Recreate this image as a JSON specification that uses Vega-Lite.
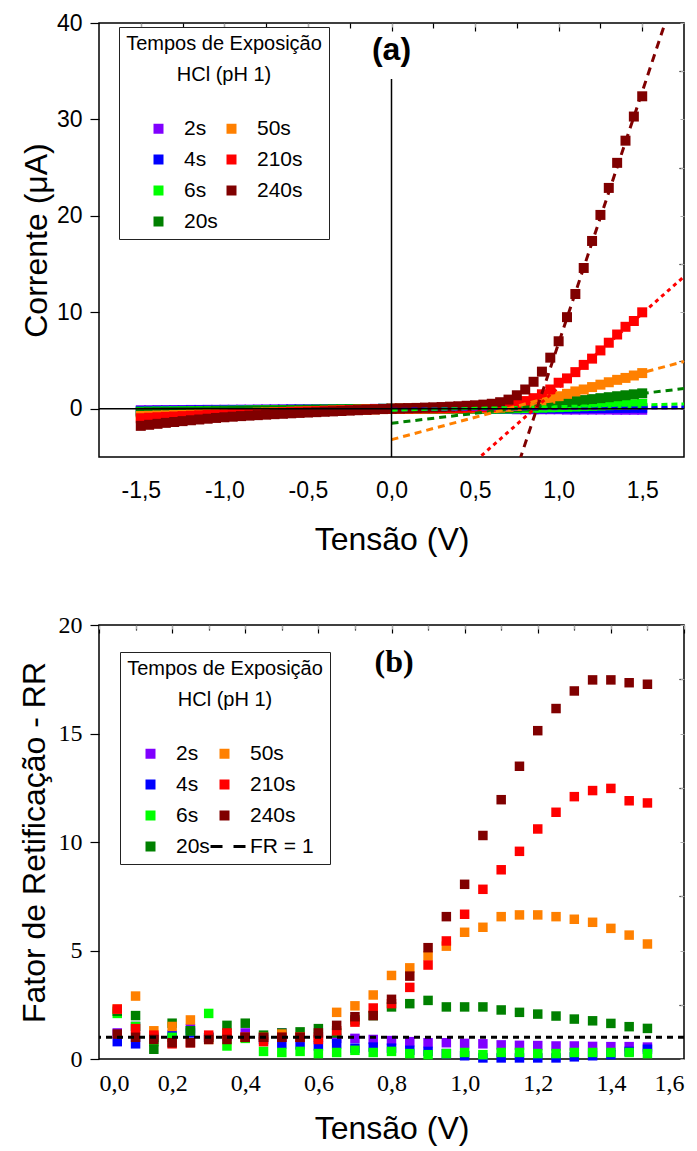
{
"$schema": "https://vega.github.io/schema/vega-lite/v6.json",
"background": "white",
"padding": {"left": 17, "top": 11, "right": 5, "bottom": 5},
"spacing": 56,
"resolve": {"scale": {"color": "independent", "shape": "independent", "stroke": "independent", "strokeDash": "independent"}, "legend": {"color": "independent", "shape": "independent"}},
"config": {
  "view": {"stroke": "black", "strokeWidth": 1.5},
  "axis": {"grid": false, "domain": false, "labelColor": "black", "titleColor": "black", "tickColor": "black", "tickWidth": 1.2, "titleFontWeight": "normal"},
  "legend": {"titleFontWeight": "normal", "titleColor": "black", "labelColor": "black", "strokeColor": "#222", "fillColor": "white", "padding": 7, "titleFont": "Liberation Sans", "titleFontSize": 20, "titleAlign": "center", "titleAnchor": "middle", "titleLineHeight": 31, "titlePadding": 33, "labelFont": "Liberation Sans", "labelFontSize": 21, "labelOffset": 15, "symbolSize": 100, "symbolOffset": 3, "rowPadding": 9, "columnPadding": 0, "symbolStrokeWidth": 0, "titleLimit": 400, "labelLimit": 300}
},
"datasets": {
"fits": [{"t":"2s","v":0,"i":-0.1},{"t":"2s","v":1.75,"i":0.1},{"t":"4s","v":0,"i":-0.05},{"t":"4s","v":1.75,"i":0.2},{"t":"6s","v":0,"i":-0.14},{"t":"6s","v":1.75,"i":0.5},{"t":"20s","v":0,"i":-1.5},{"t":"20s","v":1.75,"i":2.1},{"t":"50s","v":0,"i":-3.2},{"t":"50s","v":1.75,"i":4.9},{"t":"210s","v":0,"i":-13.1},{"t":"210s","v":1.75,"i":13.7},{"t":"240s","v":0,"i":-45.3},{"t":"240s","v":1.75,"i":45.9}],
"iv": [
{"t":"2s","v":-1.5,"i":-0.15},{"t":"2s","v":-1.45,"i":-0.15},{"t":"2s","v":-1.4,"i":-0.14},{"t":"2s","v":-1.35,"i":-0.14},{"t":"2s","v":-1.3,"i":-0.13},{"t":"2s","v":-1.25,"i":-0.13},{"t":"2s","v":-1.2,"i":-0.12},{"t":"2s","v":-1.15,"i":-0.12},{"t":"2s","v":-1.1,"i":-0.11},{"t":"2s","v":-1.05,"i":-0.11},{"t":"2s","v":-1,"i":-0.1},{"t":"2s","v":-0.95,"i":-0.1},{"t":"2s","v":-0.9,"i":-0.09},{"t":"2s","v":-0.85,"i":-0.09},{"t":"2s","v":-0.8,"i":-0.08},{"t":"2s","v":-0.75,"i":-0.08},{"t":"2s","v":-0.7,"i":-0.07},{"t":"2s","v":-0.65,"i":-0.07},{"t":"2s","v":-0.6,"i":-0.06},{"t":"2s","v":-0.55,"i":-0.06},{"t":"2s","v":-0.5,"i":-0.05},{"t":"2s","v":-0.45,"i":-0.05},{"t":"2s","v":-0.4,"i":-0.04},{"t":"2s","v":-0.35,"i":-0.04},{"t":"2s","v":-0.3,"i":-0.03},{"t":"2s","v":-0.25,"i":-0.03},{"t":"2s","v":-0.2,"i":-0.02},{"t":"2s","v":-0.15,"i":-0.02},{"t":"2s","v":-0.1,"i":-0.01},{"t":"2s","v":-0.05,"i":-0.01},{"t":"2s","v":0,"i":0},
{"t":"2s","v":0.05,"i":0.01},{"t":"2s","v":0.1,"i":0.01},{"t":"2s","v":0.15,"i":0.01},{"t":"2s","v":0.2,"i":0.01},{"t":"2s","v":0.25,"i":0.01},{"t":"2s","v":0.3,"i":0.01},{"t":"2s","v":0.35,"i":0.01},{"t":"2s","v":0.4,"i":0.01},{"t":"2s","v":0.45,"i":0.01},{"t":"2s","v":0.5,"i":0.01},{"t":"2s","v":0.55,"i":-0.02},{"t":"2s","v":0.6,"i":-0.02},{"t":"2s","v":0.65,"i":-0.02},{"t":"2s","v":0.7,"i":-0.02},{"t":"2s","v":0.75,"i":-0.05},{"t":"2s","v":0.8,"i":-0.05},{"t":"2s","v":0.85,"i":-0.05},{"t":"2s","v":0.9,"i":-0.05},{"t":"2s","v":0.95,"i":-0.05},{"t":"2s","v":1,"i":-0.05},{"t":"2s","v":1.05,"i":-0.08},{"t":"2s","v":1.1,"i":-0.08},{"t":"2s","v":1.15,"i":-0.08},{"t":"2s","v":1.2,"i":-0.08},{"t":"2s","v":1.25,"i":-0.08},{"t":"2s","v":1.3,"i":-0.08},{"t":"2s","v":1.35,"i":-0.1},{"t":"2s","v":1.4,"i":-0.1},{"t":"2s","v":1.45,"i":-0.1},{"t":"2s","v":1.5,"i":-0.1},
{"t":"4s","v":-1.5,"i":-0.23},{"t":"4s","v":-1.45,"i":-0.22},{"t":"4s","v":-1.4,"i":-0.21},{"t":"4s","v":-1.35,"i":-0.2},{"t":"4s","v":-1.3,"i":-0.2},{"t":"4s","v":-1.25,"i":-0.19},{"t":"4s","v":-1.2,"i":-0.18},{"t":"4s","v":-1.15,"i":-0.17},{"t":"4s","v":-1.1,"i":-0.17},{"t":"4s","v":-1.05,"i":-0.16},{"t":"4s","v":-1,"i":-0.15},{"t":"4s","v":-0.95,"i":-0.14},{"t":"4s","v":-0.9,"i":-0.14},{"t":"4s","v":-0.85,"i":-0.13},{"t":"4s","v":-0.8,"i":-0.12},{"t":"4s","v":-0.75,"i":-0.11},{"t":"4s","v":-0.7,"i":-0.11},{"t":"4s","v":-0.65,"i":-0.1},{"t":"4s","v":-0.6,"i":-0.09},{"t":"4s","v":-0.55,"i":-0.08},{"t":"4s","v":-0.5,"i":-0.08},{"t":"4s","v":-0.45,"i":-0.07},{"t":"4s","v":-0.4,"i":-0.06},{"t":"4s","v":-0.35,"i":-0.05},{"t":"4s","v":-0.3,"i":-0.05},{"t":"4s","v":-0.25,"i":-0.04},{"t":"4s","v":-0.2,"i":-0.03},{"t":"4s","v":-0.15,"i":-0.02},{"t":"4s","v":-0.1,"i":-0.02},{"t":"4s","v":-0.05,"i":-0.01},{"t":"4s","v":0,"i":0},
{"t":"4s","v":0.05,"i":0.01},{"t":"4s","v":0.1,"i":0.01},{"t":"4s","v":0.15,"i":0.01},{"t":"4s","v":0.2,"i":0.01},{"t":"4s","v":0.25,"i":0.01},{"t":"4s","v":0.3,"i":0.01},{"t":"4s","v":0.35,"i":0.01},{"t":"4s","v":0.4,"i":0.01},{"t":"4s","v":0.45,"i":0.01},{"t":"4s","v":0.5,"i":0.01},{"t":"4s","v":0.55,"i":0.01},{"t":"4s","v":0.6,"i":0.01},{"t":"4s","v":0.65,"i":0.02},{"t":"4s","v":0.7,"i":0.02},{"t":"4s","v":0.75,"i":0.03},{"t":"4s","v":0.8,"i":0.03},{"t":"4s","v":0.85,"i":0.04},{"t":"4s","v":0.9,"i":0.04},{"t":"4s","v":0.95,"i":0.05},{"t":"4s","v":1,"i":0.05},{"t":"4s","v":1.05,"i":0.06},{"t":"4s","v":1.1,"i":0.06},{"t":"4s","v":1.15,"i":0.07},{"t":"4s","v":1.2,"i":0.07},{"t":"4s","v":1.25,"i":0.08},{"t":"4s","v":1.3,"i":0.08},{"t":"4s","v":1.35,"i":0.09},{"t":"4s","v":1.4,"i":0.09},{"t":"4s","v":1.45,"i":0.1},{"t":"4s","v":1.5,"i":0.1},
{"t":"6s","v":-1.5,"i":-0.3},{"t":"6s","v":-1.45,"i":-0.29},{"t":"6s","v":-1.4,"i":-0.28},{"t":"6s","v":-1.35,"i":-0.27},{"t":"6s","v":-1.3,"i":-0.26},{"t":"6s","v":-1.25,"i":-0.25},{"t":"6s","v":-1.2,"i":-0.24},{"t":"6s","v":-1.15,"i":-0.23},{"t":"6s","v":-1.1,"i":-0.22},{"t":"6s","v":-1.05,"i":-0.21},{"t":"6s","v":-1,"i":-0.2},{"t":"6s","v":-0.95,"i":-0.19},{"t":"6s","v":-0.9,"i":-0.18},{"t":"6s","v":-0.85,"i":-0.17},{"t":"6s","v":-0.8,"i":-0.16},{"t":"6s","v":-0.75,"i":-0.15},{"t":"6s","v":-0.7,"i":-0.14},{"t":"6s","v":-0.65,"i":-0.13},{"t":"6s","v":-0.6,"i":-0.12},{"t":"6s","v":-0.55,"i":-0.11},{"t":"6s","v":-0.5,"i":-0.1},{"t":"6s","v":-0.45,"i":-0.09},{"t":"6s","v":-0.4,"i":-0.08},{"t":"6s","v":-0.35,"i":-0.07},{"t":"6s","v":-0.3,"i":-0.06},{"t":"6s","v":-0.25,"i":-0.05},{"t":"6s","v":-0.2,"i":-0.04},{"t":"6s","v":-0.15,"i":-0.03},{"t":"6s","v":-0.1,"i":-0.02},{"t":"6s","v":-0.05,"i":-0.01},{"t":"6s","v":0,"i":0},
{"t":"6s","v":0.05,"i":0.01},{"t":"6s","v":0.1,"i":0.01},{"t":"6s","v":0.15,"i":0.01},{"t":"6s","v":0.2,"i":0.01},{"t":"6s","v":0.25,"i":0.01},{"t":"6s","v":0.3,"i":0.01},{"t":"6s","v":0.35,"i":0.01},{"t":"6s","v":0.4,"i":0.01},{"t":"6s","v":0.45,"i":0.01},{"t":"6s","v":0.5,"i":0.01},{"t":"6s","v":0.55,"i":0.01},{"t":"6s","v":0.6,"i":0.01},{"t":"6s","v":0.65,"i":0.02},{"t":"6s","v":0.7,"i":0.03},{"t":"6s","v":0.75,"i":0.05},{"t":"6s","v":0.8,"i":0.07},{"t":"6s","v":0.85,"i":0.1},{"t":"6s","v":0.9,"i":0.12},{"t":"6s","v":0.95,"i":0.15},{"t":"6s","v":1,"i":0.17},{"t":"6s","v":1.05,"i":0.2},{"t":"6s","v":1.1,"i":0.23},{"t":"6s","v":1.15,"i":0.27},{"t":"6s","v":1.2,"i":0.3},{"t":"6s","v":1.25,"i":0.33},{"t":"6s","v":1.3,"i":0.37},{"t":"6s","v":1.35,"i":0.4},{"t":"6s","v":1.4,"i":0.44},{"t":"6s","v":1.45,"i":0.47},{"t":"6s","v":1.5,"i":0.5},
{"t":"20s","v":-1.5,"i":-0.38},{"t":"20s","v":-1.45,"i":-0.36},{"t":"20s","v":-1.4,"i":-0.35},{"t":"20s","v":-1.35,"i":-0.34},{"t":"20s","v":-1.3,"i":-0.33},{"t":"20s","v":-1.25,"i":-0.31},{"t":"20s","v":-1.2,"i":-0.3},{"t":"20s","v":-1.15,"i":-0.29},{"t":"20s","v":-1.1,"i":-0.28},{"t":"20s","v":-1.05,"i":-0.26},{"t":"20s","v":-1,"i":-0.25},{"t":"20s","v":-0.95,"i":-0.24},{"t":"20s","v":-0.9,"i":-0.23},{"t":"20s","v":-0.85,"i":-0.21},{"t":"20s","v":-0.8,"i":-0.2},{"t":"20s","v":-0.75,"i":-0.19},{"t":"20s","v":-0.7,"i":-0.18},{"t":"20s","v":-0.65,"i":-0.16},{"t":"20s","v":-0.6,"i":-0.15},{"t":"20s","v":-0.55,"i":-0.14},{"t":"20s","v":-0.5,"i":-0.13},{"t":"20s","v":-0.45,"i":-0.11},{"t":"20s","v":-0.4,"i":-0.1},{"t":"20s","v":-0.35,"i":-0.09},{"t":"20s","v":-0.3,"i":-0.08},{"t":"20s","v":-0.25,"i":-0.06},{"t":"20s","v":-0.2,"i":-0.05},{"t":"20s","v":-0.15,"i":-0.04},{"t":"20s","v":-0.1,"i":-0.03},{"t":"20s","v":-0.05,"i":-0.01},{"t":"20s","v":0,"i":0},
{"t":"20s","v":0.05,"i":0.01},{"t":"20s","v":0.1,"i":0.01},{"t":"20s","v":0.15,"i":0.02},{"t":"20s","v":0.2,"i":0.02},{"t":"20s","v":0.25,"i":0.02},{"t":"20s","v":0.3,"i":0.03},{"t":"20s","v":0.35,"i":0.03},{"t":"20s","v":0.4,"i":0.03},{"t":"20s","v":0.45,"i":0.04},{"t":"20s","v":0.5,"i":0.04},{"t":"20s","v":0.55,"i":0.05},{"t":"20s","v":0.6,"i":0.05},{"t":"20s","v":0.65,"i":0.06},{"t":"20s","v":0.7,"i":0.1},{"t":"20s","v":0.75,"i":0.15},{"t":"20s","v":0.8,"i":0.22},{"t":"20s","v":0.85,"i":0.3},{"t":"20s","v":0.9,"i":0.4},{"t":"20s","v":0.95,"i":0.5},{"t":"20s","v":1,"i":0.6},{"t":"20s","v":1.05,"i":0.7},{"t":"20s","v":1.1,"i":0.8},{"t":"20s","v":1.15,"i":0.9},{"t":"20s","v":1.2,"i":1.0},{"t":"20s","v":1.25,"i":1.1},{"t":"20s","v":1.3,"i":1.2},{"t":"20s","v":1.35,"i":1.3},{"t":"20s","v":1.4,"i":1.4},{"t":"20s","v":1.45,"i":1.5},{"t":"20s","v":1.5,"i":1.6},
{"t":"50s","v":-1.5,"i":-0.75},{"t":"50s","v":-1.45,"i":-0.73},{"t":"50s","v":-1.4,"i":-0.7},{"t":"50s","v":-1.35,"i":-0.68},{"t":"50s","v":-1.3,"i":-0.65},{"t":"50s","v":-1.25,"i":-0.63},{"t":"50s","v":-1.2,"i":-0.6},{"t":"50s","v":-1.15,"i":-0.58},{"t":"50s","v":-1.1,"i":-0.55},{"t":"50s","v":-1.05,"i":-0.53},{"t":"50s","v":-1,"i":-0.5},{"t":"50s","v":-0.95,"i":-0.48},{"t":"50s","v":-0.9,"i":-0.45},{"t":"50s","v":-0.85,"i":-0.43},{"t":"50s","v":-0.8,"i":-0.4},{"t":"50s","v":-0.75,"i":-0.38},{"t":"50s","v":-0.7,"i":-0.35},{"t":"50s","v":-0.65,"i":-0.33},{"t":"50s","v":-0.6,"i":-0.3},{"t":"50s","v":-0.55,"i":-0.28},{"t":"50s","v":-0.5,"i":-0.25},{"t":"50s","v":-0.45,"i":-0.23},{"t":"50s","v":-0.4,"i":-0.2},{"t":"50s","v":-0.35,"i":-0.18},{"t":"50s","v":-0.3,"i":-0.15},{"t":"50s","v":-0.25,"i":-0.13},{"t":"50s","v":-0.2,"i":-0.1},{"t":"50s","v":-0.15,"i":-0.08},{"t":"50s","v":-0.1,"i":-0.05},{"t":"50s","v":-0.05,"i":-0.03},{"t":"50s","v":0,"i":0},
{"t":"50s","v":0.05,"i":0.01},{"t":"50s","v":0.1,"i":0.01},{"t":"50s","v":0.15,"i":0.02},{"t":"50s","v":0.2,"i":0.02},{"t":"50s","v":0.25,"i":0.03},{"t":"50s","v":0.3,"i":0.03},{"t":"50s","v":0.35,"i":0.04},{"t":"50s","v":0.4,"i":0.04},{"t":"50s","v":0.45,"i":0.05},{"t":"50s","v":0.5,"i":0.05},{"t":"50s","v":0.55,"i":0.06},{"t":"50s","v":0.6,"i":0.08},{"t":"50s","v":0.65,"i":0.12},{"t":"50s","v":0.7,"i":0.2},{"t":"50s","v":0.75,"i":0.3},{"t":"50s","v":0.8,"i":0.45},{"t":"50s","v":0.85,"i":0.65},{"t":"50s","v":0.9,"i":0.85},{"t":"50s","v":0.95,"i":1.05},{"t":"50s","v":1,"i":1.3},{"t":"50s","v":1.05,"i":1.55},{"t":"50s","v":1.1,"i":1.8},{"t":"50s","v":1.15,"i":2.0},{"t":"50s","v":1.2,"i":2.25},{"t":"50s","v":1.25,"i":2.5},{"t":"50s","v":1.3,"i":2.75},{"t":"50s","v":1.35,"i":3.0},{"t":"50s","v":1.4,"i":3.2},{"t":"50s","v":1.45,"i":3.45},{"t":"50s","v":1.5,"i":3.7},
{"t":"210s","v":-1.5,"i":-0.98},{"t":"210s","v":-1.45,"i":-0.93},{"t":"210s","v":-1.4,"i":-0.88},{"t":"210s","v":-1.35,"i":-0.84},{"t":"210s","v":-1.3,"i":-0.8},{"t":"210s","v":-1.25,"i":-0.76},{"t":"210s","v":-1.2,"i":-0.72},{"t":"210s","v":-1.15,"i":-0.68},{"t":"210s","v":-1.1,"i":-0.64},{"t":"210s","v":-1.05,"i":-0.61},{"t":"210s","v":-1,"i":-0.58},{"t":"210s","v":-0.95,"i":-0.55},{"t":"210s","v":-0.9,"i":-0.52},{"t":"210s","v":-0.85,"i":-0.49},{"t":"210s","v":-0.8,"i":-0.46},{"t":"210s","v":-0.75,"i":-0.43},{"t":"210s","v":-0.7,"i":-0.4},{"t":"210s","v":-0.65,"i":-0.37},{"t":"210s","v":-0.6,"i":-0.34},{"t":"210s","v":-0.55,"i":-0.31},{"t":"210s","v":-0.5,"i":-0.28},{"t":"210s","v":-0.45,"i":-0.25},{"t":"210s","v":-0.4,"i":-0.22},{"t":"210s","v":-0.35,"i":-0.19},{"t":"210s","v":-0.3,"i":-0.16},{"t":"210s","v":-0.25,"i":-0.13},{"t":"210s","v":-0.2,"i":-0.1},{"t":"210s","v":-0.15,"i":-0.07},{"t":"210s","v":-0.1,"i":-0.05},{"t":"210s","v":-0.05,"i":-0.02},{"t":"210s","v":0,"i":0},
{"t":"210s","v":0.05,"i":0.01},{"t":"210s","v":0.1,"i":0.02},{"t":"210s","v":0.15,"i":0.03},{"t":"210s","v":0.2,"i":0.04},{"t":"210s","v":0.25,"i":0.05},{"t":"210s","v":0.3,"i":0.06},{"t":"210s","v":0.35,"i":0.07},{"t":"210s","v":0.4,"i":0.08},{"t":"210s","v":0.45,"i":0.1},{"t":"210s","v":0.5,"i":0.12},{"t":"210s","v":0.55,"i":0.15},{"t":"210s","v":0.6,"i":0.2},{"t":"210s","v":0.65,"i":0.3},{"t":"210s","v":0.7,"i":0.4},{"t":"210s","v":0.75,"i":0.55},{"t":"210s","v":0.8,"i":0.8},{"t":"210s","v":0.85,"i":1.1},{"t":"210s","v":0.9,"i":1.5},{"t":"210s","v":0.95,"i":2.0},{"t":"210s","v":1,"i":2.7},{"t":"210s","v":1.05,"i":3.15},{"t":"210s","v":1.1,"i":3.8},{"t":"210s","v":1.15,"i":4.55},{"t":"210s","v":1.2,"i":5.2},{"t":"210s","v":1.25,"i":6.05},{"t":"210s","v":1.3,"i":6.85},{"t":"210s","v":1.35,"i":7.7},{"t":"210s","v":1.4,"i":8.5},{"t":"210s","v":1.45,"i":9.1},{"t":"210s","v":1.5,"i":10.0},
{"t":"240s","v":-1.5,"i":-1.77},{"t":"240s","v":-1.45,"i":-1.66},{"t":"240s","v":-1.4,"i":-1.56},{"t":"240s","v":-1.35,"i":-1.46},{"t":"240s","v":-1.3,"i":-1.37},{"t":"240s","v":-1.25,"i":-1.28},{"t":"240s","v":-1.2,"i":-1.19},{"t":"240s","v":-1.15,"i":-1.11},{"t":"240s","v":-1.1,"i":-1.03},{"t":"240s","v":-1.05,"i":-0.95},{"t":"240s","v":-1,"i":-0.88},{"t":"240s","v":-0.95,"i":-0.82},{"t":"240s","v":-0.9,"i":-0.76},{"t":"240s","v":-0.85,"i":-0.71},{"t":"240s","v":-0.8,"i":-0.66},{"t":"240s","v":-0.75,"i":-0.61},{"t":"240s","v":-0.7,"i":-0.56},{"t":"240s","v":-0.65,"i":-0.52},{"t":"240s","v":-0.6,"i":-0.47},{"t":"240s","v":-0.55,"i":-0.43},{"t":"240s","v":-0.5,"i":-0.39},{"t":"240s","v":-0.45,"i":-0.35},{"t":"240s","v":-0.4,"i":-0.31},{"t":"240s","v":-0.35,"i":-0.27},{"t":"240s","v":-0.3,"i":-0.23},{"t":"240s","v":-0.25,"i":-0.19},{"t":"240s","v":-0.2,"i":-0.15},{"t":"240s","v":-0.15,"i":-0.11},{"t":"240s","v":-0.1,"i":-0.07},{"t":"240s","v":-0.05,"i":-0.03},{"t":"240s","v":0,"i":0},
{"t":"240s","v":0.05,"i":0.03},{"t":"240s","v":0.1,"i":0.06},{"t":"240s","v":0.15,"i":0.09},{"t":"240s","v":0.2,"i":0.12},{"t":"240s","v":0.25,"i":0.15},{"t":"240s","v":0.3,"i":0.18},{"t":"240s","v":0.35,"i":0.22},{"t":"240s","v":0.4,"i":0.26},{"t":"240s","v":0.45,"i":0.31},{"t":"240s","v":0.5,"i":0.36},{"t":"240s","v":0.55,"i":0.43},{"t":"240s","v":0.6,"i":0.52},{"t":"240s","v":0.65,"i":0.68},{"t":"240s","v":0.7,"i":0.95},{"t":"240s","v":0.75,"i":1.4},{"t":"240s","v":0.8,"i":2.0},{"t":"240s","v":0.85,"i":2.8},{"t":"240s","v":0.9,"i":3.85},{"t":"240s","v":0.95,"i":5.3},{"t":"240s","v":1,"i":7.0},{"t":"240s","v":1.05,"i":9.5},{"t":"240s","v":1.1,"i":11.9},{"t":"240s","v":1.15,"i":14.6},{"t":"240s","v":1.2,"i":17.4},{"t":"240s","v":1.25,"i":20.1},{"t":"240s","v":1.3,"i":22.9},{"t":"240s","v":1.35,"i":25.5},{"t":"240s","v":1.4,"i":27.8},{"t":"240s","v":1.45,"i":30.3},{"t":"240s","v":1.5,"i":32.4}
],
"rr": [
{"t":"2s","v":0.05,"r":1.2},{"t":"2s","v":0.1,"r":1.5},{"t":"2s","v":0.15,"r":1.0},{"t":"2s","v":0.2,"r":1.0},{"t":"2s","v":0.25,"r":1.4},{"t":"2s","v":0.3,"r":1.0},{"t":"2s","v":0.35,"r":1.05},{"t":"2s","v":0.4,"r":1.2},{"t":"2s","v":0.45,"r":1.0},{"t":"2s","v":0.5,"r":1.2},{"t":"2s","v":0.55,"r":1.0},{"t":"2s","v":0.6,"r":1.0},{"t":"2s","v":0.65,"r":0.95},{"t":"2s","v":0.7,"r":0.95},{"t":"2s","v":0.75,"r":0.9},{"t":"2s","v":0.8,"r":0.85},{"t":"2s","v":0.85,"r":0.8},{"t":"2s","v":0.9,"r":0.75},{"t":"2s","v":0.95,"r":0.75},{"t":"2s","v":1,"r":0.72},{"t":"2s","v":1.05,"r":0.7},{"t":"2s","v":1.1,"r":0.65},{"t":"2s","v":1.15,"r":0.63},{"t":"2s","v":1.2,"r":0.62},{"t":"2s","v":1.25,"r":0.6},{"t":"2s","v":1.3,"r":0.6},{"t":"2s","v":1.35,"r":0.58},{"t":"2s","v":1.4,"r":0.57},{"t":"2s","v":1.45,"r":0.57},{"t":"2s","v":1.5,"r":0.55},
{"t":"4s","v":0.05,"r":0.8},{"t":"4s","v":0.1,"r":0.7},{"t":"4s","v":0.15,"r":1.0},{"t":"4s","v":0.2,"r":1.1},{"t":"4s","v":0.25,"r":1.2},{"t":"4s","v":0.3,"r":1.0},{"t":"4s","v":0.35,"r":1.1},{"t":"4s","v":0.4,"r":1.0},{"t":"4s","v":0.45,"r":0.9},{"t":"4s","v":0.5,"r":0.7},{"t":"4s","v":0.55,"r":0.65},{"t":"4s","v":0.6,"r":0.6},{"t":"4s","v":0.65,"r":0.7},{"t":"4s","v":0.7,"r":0.5},{"t":"4s","v":0.75,"r":0.55},{"t":"4s","v":0.8,"r":0.5},{"t":"4s","v":0.85,"r":0.4},{"t":"4s","v":0.9,"r":0.35},{"t":"4s","v":0.95,"r":0.25},{"t":"4s","v":1,"r":0.15},{"t":"4s","v":1.05,"r":0.05},{"t":"4s","v":1.1,"r":0.05},{"t":"4s","v":1.15,"r":0.05},{"t":"4s","v":1.2,"r":0.05},{"t":"4s","v":1.25,"r":0.05},{"t":"4s","v":1.3,"r":0.1},{"t":"4s","v":1.35,"r":0.15},{"t":"4s","v":1.4,"r":0.2},{"t":"4s","v":1.45,"r":0.35},{"t":"4s","v":1.5,"r":0.45},
{"t":"6s","v":0.05,"r":2.1},{"t":"6s","v":0.1,"r":1.5},{"t":"6s","v":0.15,"r":0.8},{"t":"6s","v":0.2,"r":1.0},{"t":"6s","v":0.25,"r":1.3},{"t":"6s","v":0.3,"r":2.1},{"t":"6s","v":0.35,"r":0.6},{"t":"6s","v":0.4,"r":0.95},{"t":"6s","v":0.45,"r":0.35},{"t":"6s","v":0.5,"r":0.3},{"t":"6s","v":0.55,"r":0.35},{"t":"6s","v":0.6,"r":0.25},{"t":"6s","v":0.65,"r":0.3},{"t":"6s","v":0.7,"r":0.4},{"t":"6s","v":0.75,"r":0.3},{"t":"6s","v":0.8,"r":0.35},{"t":"6s","v":0.85,"r":0.25},{"t":"6s","v":0.9,"r":0.2},{"t":"6s","v":0.95,"r":0.25},{"t":"6s","v":1,"r":0.3},{"t":"6s","v":1.05,"r":0.2},{"t":"6s","v":1.1,"r":0.3},{"t":"6s","v":1.15,"r":0.3},{"t":"6s","v":1.2,"r":0.25},{"t":"6s","v":1.25,"r":0.25},{"t":"6s","v":1.3,"r":0.3},{"t":"6s","v":1.35,"r":0.3},{"t":"6s","v":1.4,"r":0.3},{"t":"6s","v":1.45,"r":0.3},{"t":"6s","v":1.5,"r":0.25},
{"t":"20s","v":0.05,"r":2.2},{"t":"20s","v":0.1,"r":2.0},{"t":"20s","v":0.15,"r":0.45},{"t":"20s","v":0.2,"r":1.65},{"t":"20s","v":0.25,"r":1.3},{"t":"20s","v":0.3,"r":1.0},{"t":"20s","v":0.35,"r":1.55},{"t":"20s","v":0.4,"r":1.65},{"t":"20s","v":0.45,"r":1.1},{"t":"20s","v":0.5,"r":1.2},{"t":"20s","v":0.55,"r":1.25},{"t":"20s","v":0.6,"r":1.4},{"t":"20s","v":0.65,"r":1.2},{"t":"20s","v":0.7,"r":1.8},{"t":"20s","v":0.75,"r":2.0},{"t":"20s","v":0.8,"r":2.4},{"t":"20s","v":0.85,"r":2.55},{"t":"20s","v":0.9,"r":2.7},{"t":"20s","v":0.95,"r":2.4},{"t":"20s","v":1,"r":2.4},{"t":"20s","v":1.05,"r":2.4},{"t":"20s","v":1.1,"r":2.26},{"t":"20s","v":1.15,"r":2.15},{"t":"20s","v":1.2,"r":2.07},{"t":"20s","v":1.25,"r":1.98},{"t":"20s","v":1.3,"r":1.84},{"t":"20s","v":1.35,"r":1.76},{"t":"20s","v":1.4,"r":1.64},{"t":"20s","v":1.45,"r":1.49},{"t":"20s","v":1.5,"r":1.41},
{"t":"50s","v":0.05,"r":2.3},{"t":"50s","v":0.1,"r":2.9},{"t":"50s","v":0.15,"r":1.3},{"t":"50s","v":0.2,"r":1.5},{"t":"50s","v":0.25,"r":1.8},{"t":"50s","v":0.3,"r":0.9},{"t":"50s","v":0.35,"r":1.1},{"t":"50s","v":0.4,"r":1.0},{"t":"50s","v":0.45,"r":1.0},{"t":"50s","v":0.5,"r":1.15},{"t":"50s","v":0.55,"r":1.0},{"t":"50s","v":0.6,"r":1.0},{"t":"50s","v":0.65,"r":2.15},{"t":"50s","v":0.7,"r":2.45},{"t":"50s","v":0.75,"r":2.95},{"t":"50s","v":0.8,"r":3.85},{"t":"50s","v":0.85,"r":4.2},{"t":"50s","v":0.9,"r":4.75},{"t":"50s","v":0.95,"r":5.2},{"t":"50s","v":1,"r":5.84},{"t":"50s","v":1.05,"r":6.07},{"t":"50s","v":1.1,"r":6.56},{"t":"50s","v":1.15,"r":6.64},{"t":"50s","v":1.2,"r":6.64},{"t":"50s","v":1.25,"r":6.56},{"t":"50s","v":1.3,"r":6.44},{"t":"50s","v":1.35,"r":6.3},{"t":"50s","v":1.4,"r":6.02},{"t":"50s","v":1.45,"r":5.71},{"t":"50s","v":1.5,"r":5.3},
{"t":"210s","v":0.05,"r":2.3},{"t":"210s","v":0.1,"r":1.4},{"t":"210s","v":0.15,"r":1.1},{"t":"210s","v":0.2,"r":0.7},{"t":"210s","v":0.25,"r":0.75},{"t":"210s","v":0.3,"r":1.1},{"t":"210s","v":0.35,"r":1.2},{"t":"210s","v":0.4,"r":1.0},{"t":"210s","v":0.45,"r":0.8},{"t":"210s","v":0.5,"r":1.0},{"t":"210s","v":0.55,"r":1.0},{"t":"210s","v":0.6,"r":0.9},{"t":"210s","v":0.65,"r":1.3},{"t":"210s","v":0.7,"r":1.7},{"t":"210s","v":0.75,"r":2.35},{"t":"210s","v":0.8,"r":2.55},{"t":"210s","v":0.85,"r":3.3},{"t":"210s","v":0.9,"r":4.33},{"t":"210s","v":0.95,"r":5.44},{"t":"210s","v":1,"r":6.67},{"t":"210s","v":1.05,"r":7.82},{"t":"210s","v":1.1,"r":8.72},{"t":"210s","v":1.15,"r":9.57},{"t":"210s","v":1.2,"r":10.6},{"t":"210s","v":1.25,"r":11.37},{"t":"210s","v":1.3,"r":12.09},{"t":"210s","v":1.35,"r":12.37},{"t":"210s","v":1.4,"r":12.47},{"t":"210s","v":1.45,"r":11.9},{"t":"210s","v":1.5,"r":11.8},
{"t":"240s","v":0.05,"r":1.15},{"t":"240s","v":0.1,"r":1.0},{"t":"240s","v":0.15,"r":0.9},{"t":"240s","v":0.2,"r":0.75},{"t":"240s","v":0.25,"r":0.75},{"t":"240s","v":0.3,"r":0.9},{"t":"240s","v":0.35,"r":0.9},{"t":"240s","v":0.4,"r":1.0},{"t":"240s","v":0.45,"r":1.0},{"t":"240s","v":0.5,"r":1.0},{"t":"240s","v":0.55,"r":1.0},{"t":"240s","v":0.6,"r":1.2},{"t":"240s","v":0.65,"r":1.55},{"t":"240s","v":0.7,"r":1.95},{"t":"240s","v":0.75,"r":2.0},{"t":"240s","v":0.8,"r":2.75},{"t":"240s","v":0.85,"r":3.82},{"t":"240s","v":0.9,"r":5.13},{"t":"240s","v":0.95,"r":6.56},{"t":"240s","v":1,"r":8.05},{"t":"240s","v":1.05,"r":10.3},{"t":"240s","v":1.1,"r":11.95},{"t":"240s","v":1.15,"r":13.49},{"t":"240s","v":1.2,"r":15.13},{"t":"240s","v":1.25,"r":16.15},{"t":"240s","v":1.3,"r":16.96},{"t":"240s","v":1.35,"r":17.47},{"t":"240s","v":1.4,"r":17.47},{"t":"240s","v":1.45,"r":17.34},{"t":"240s","v":1.5,"r":17.27}
]
},
"vconcat": [
{
  "width": 585, "height": 434,
  "resolve": {"axis": {"x": "independent", "y": "independent"}},
  "layer": [
    {
      "data": {"name": "iv"},
      "mark": {"type": "point", "shape": "square", "filled": true, "size": 100, "opacity": 1, "strokeWidth": 0},
      "encoding": {
        "x": {"field": "v", "type": "quantitative", "scale": {"domain": [-1.75, 1.75], "nice": false, "zero": false},
          "axis": {"title": "Tensão (V)", "values": [-1.5,-1,-0.5,0,0.5,1,1.5], "labelExpr": "replace(replace(format(datum.value, '.1f'), '.', ','), '−', '-')", "ticks": false, "labelFont": "Liberation Sans", "labelFontSize": 23, "labelPadding": 22, "titleFont": "Liberation Sans", "titleFontSize": 32, "titlePadding": 22}},
        "y": {"field": "i", "type": "quantitative", "scale": {"domain": [-5, 40], "nice": false, "zero": false},
          "axis": {"title": "Corrente (μA)", "values": [0,10,20,30,40], "format": "d", "tickSize": 9, "labelFont": "Liberation Sans", "labelFontSize": 23, "labelPadding": 8, "titleFont": "Liberation Sans", "titleFontSize": 32, "titlePadding": 3}},
        "color": {"field": "t", "type": "nominal",
          "scale": {"domain": ["2s","4s","6s","20s","50s","210s","240s"], "range": ["#8000ff","#0000ff","#00ff00","#008000","#ff8000","#ff0000","#800000"]},
          "legend": {"title": ["Tempos de Exposição", "HCl (pH 1)"], "orient": "none", "legendX": 20, "legendY": 4, "columns": 2, "symbolType": "square"}}
      }
    },
    {
      "data": {"name": "fits"},
      "mark": {"type": "line", "clip": true, "strokeWidth": 3},
      "encoding": {
        "x": {"field": "v", "type": "quantitative", "scale": {"domain": [-1.75, 1.75], "nice": false, "zero": false},
          "axis": {"title": null, "values": [-1.5,-1,-0.5,0,0.5,1,1.5], "labels": false, "tickSize": -8}},
        "y": {"field": "i", "type": "quantitative", "scale": {"domain": [-5, 40], "nice": false, "zero": false},
          "axis": {"title": null, "values": [5,15,25,35], "labels": false, "tickSize": -5}},
        "stroke": {"field": "t", "type": "nominal", "scale": {"domain": ["2s","4s","6s","20s","50s","210s","240s"], "range": ["#8000ff","#0000ff","#00ff00","#008000","#ff8000","#ff0000","#800000"]}, "legend": null},
        "strokeDash": {"field": "t", "type": "nominal", "scale": {"domain": ["2s","4s","6s","20s","50s","210s","240s"], "range": [[6,4],[6,4],[6,4],[7,5],[7,5],[4,4],[8,6]]}, "legend": null}
      }
    },
    {
      "data": {"name": "fits"},
      "mark": {"type": "point", "opacity": 0, "clip": true},
      "encoding": {
        "x": {"field": "v", "type": "quantitative", "scale": {"domain": [-1.75, 1.75], "nice": false, "zero": false},
          "axis": {"title": null, "values": [-1.25,-0.75,-0.25,0.25,0.75,1.25], "labels": false, "tickSize": -5}},
        "y": {"field": "i", "type": "quantitative", "scale": {"domain": [-5, 40], "nice": false, "zero": false},
          "axis": {"title": null, "orient": "right", "values": [0,5,10,15,20,25,30,35,40], "labels": false, "tickSize": -4, "tickColor": "#aaaaaa", "tickWidth": 1}}
      }
    },
    {
      "data": {"name": "fits"},
      "mark": {"type": "point", "opacity": 0, "clip": true},
      "encoding": {
        "x": {"field": "v", "type": "quantitative", "scale": {"domain": [-1.75, 1.75], "nice": false, "zero": false},
          "axis": {"title": null, "orient": "top", "values": [-1.5,-1,-0.5,0,0.5,1,1.5], "labels": false, "tickSize": -4, "tickColor": "#aaaaaa", "tickWidth": 1}},
        "y": {"field": "i", "type": "quantitative", "scale": {"domain": [-5, 40], "nice": false, "zero": false}, "axis": null}
      }
    },
    {
      "data": {"values": [{}]},
      "mark": {"type": "rule", "color": "black", "strokeWidth": 1.5},
      "encoding": {"y": {"datum": 0, "type": "quantitative", "axis": null}}
    },
    {
      "data": {"values": [{}]},
      "mark": {"type": "rule", "color": "black", "strokeWidth": 1.5},
      "encoding": {"x": {"datum": 0, "type": "quantitative", "axis": null}, "y": {"datum": -5, "type": "quantitative", "axis": null}, "y2": {"datum": 34.2}}
    },
    {
      "data": {"values": [{}]},
      "mark": {"type": "text", "text": "(a)", "font": "Liberation Sans", "fontSize": 32, "fontWeight": "bold", "color": "black", "align": "center", "baseline": "middle"},
      "encoding": {"x": {"datum": 0, "type": "quantitative", "axis": null}, "y": {"datum": 37.2, "type": "quantitative", "axis": null}}
    }
  ]
},
{
  "width": 585, "height": 434,
  "resolve": {"axis": {"x": "independent", "y": "independent"}},
  "layer": [
    {
      "data": {"name": "rr"},
      "mark": {"type": "point", "filled": true, "size": 90, "opacity": 1, "strokeWidth": 0},
      "encoding": {
        "x": {"field": "v", "type": "quantitative", "scale": {"domain": [0, 1.6], "nice": false, "zero": false},
          "axis": {"title": "Tensão (V)", "values": [0,0.2,0.4,0.6,0.8,1,1.2,1.4,1.6], "labelExpr": "replace(format(datum.value, '.1f'), '.', ',')", "ticks": false, "labelFont": "Liberation Serif", "labelFontSize": 24, "labelPadding": 12, "titleFont": "Liberation Sans", "titleFontSize": 32, "titlePadding": 18}},
        "y": {"field": "r", "type": "quantitative", "scale": {"domain": [0, 20], "nice": false, "zero": false},
          "axis": {"title": "Fator de Retificação - RR", "values": [0,5,10,15,20], "format": "d", "tickSize": 9, "labelFont": "Liberation Serif", "labelFontSize": 24, "labelPadding": 8, "titleFont": "Liberation Sans", "titleFontSize": 32, "titlePadding": 7}},
        "color": {"field": "t", "type": "nominal",
          "scale": {"domain": ["2s","4s","6s","20s","50s","210s","240s","FR = 1"], "range": ["#8000ff","#0000ff","#00ff00","#008000","#ff8000","#ff0000","#800000","#000000"]},
          "legend": {"title": ["Tempos de Exposição", "HCl (pH 1)"], "orient": "none", "legendX": 21, "legendY": 27, "columns": 2}},
        "shape": {"field": "t", "type": "nominal",
          "scale": {"domain": ["2s","4s","6s","20s","50s","210s","240s","FR = 1"], "range": ["square","square","square","square","square","square","square","M-2.8,-0.3H-0.4V0.3H-2.8Z M1.8,-0.3H4.2V0.3H1.8Z"]},
          "legend": {"title": ["Tempos de Exposição", "HCl (pH 1)"], "orient": "none", "legendX": 21, "legendY": 27, "columns": 2}}
      }
    },
    {
      "data": {"values": [{}]},
      "mark": {"type": "rule", "color": "black", "strokeWidth": 3, "strokeDash": [6, 5]},
      "encoding": {"y": {"datum": 1, "type": "quantitative", "axis": null}}
    },
    {
      "data": {"name": "rr"},
      "mark": {"type": "point", "opacity": 0, "clip": true},
      "encoding": {
        "x": {"field": "v", "type": "quantitative", "scale": {"domain": [0, 1.6], "nice": false, "zero": false},
          "axis": {"title": null, "values": [0,0.2,0.4,0.6,0.8,1,1.2,1.4,1.6], "labels": false, "tickSize": -8}},
        "y": {"field": "r", "type": "quantitative", "scale": {"domain": [0, 20], "nice": false, "zero": false},
          "axis": {"title": null, "values": [2.5,7.5,12.5,17.5], "labels": false, "tickSize": -5}}
      }
    },
    {
      "data": {"name": "rr"},
      "mark": {"type": "point", "opacity": 0, "clip": true},
      "encoding": {
        "x": {"field": "v", "type": "quantitative", "scale": {"domain": [0, 1.6], "nice": false, "zero": false},
          "axis": {"title": null, "values": [0.1,0.3,0.5,0.7,0.9,1.1,1.3,1.5], "labels": false, "tickSize": -5}},
        "y": {"field": "r", "type": "quantitative", "scale": {"domain": [0, 20], "nice": false, "zero": false},
          "axis": {"title": null, "orient": "right", "values": [0,2.5,5,7.5,10,12.5,15,17.5,20], "labels": false, "tickSize": -4, "tickColor": "#aaaaaa", "tickWidth": 1}}
      }
    },
    {
      "data": {"name": "rr"},
      "mark": {"type": "point", "opacity": 0, "clip": true},
      "encoding": {
        "x": {"field": "v", "type": "quantitative", "scale": {"domain": [0, 1.6], "nice": false, "zero": false},
          "axis": {"title": null, "orient": "top", "values": [0,0.1,0.2,0.3,0.4,0.5,0.6,0.7,0.8,0.9,1,1.1,1.2,1.3,1.4,1.5,1.6], "labels": false, "tickSize": -4, "tickColor": "#aaaaaa", "tickWidth": 1}},
        "y": {"field": "r", "type": "quantitative", "scale": {"domain": [0, 20], "nice": false, "zero": false}, "axis": null}
      }
    },
    {
      "data": {"values": [{}]},
      "mark": {"type": "text", "text": "(b)", "font": "Liberation Serif", "fontSize": 32, "fontWeight": "bold", "color": "black", "align": "center", "baseline": "middle"},
      "encoding": {"x": {"datum": 0.807, "type": "quantitative", "axis": null}, "y": {"datum": 18.3, "type": "quantitative", "axis": null}}
    }
  ]
}
]
}
